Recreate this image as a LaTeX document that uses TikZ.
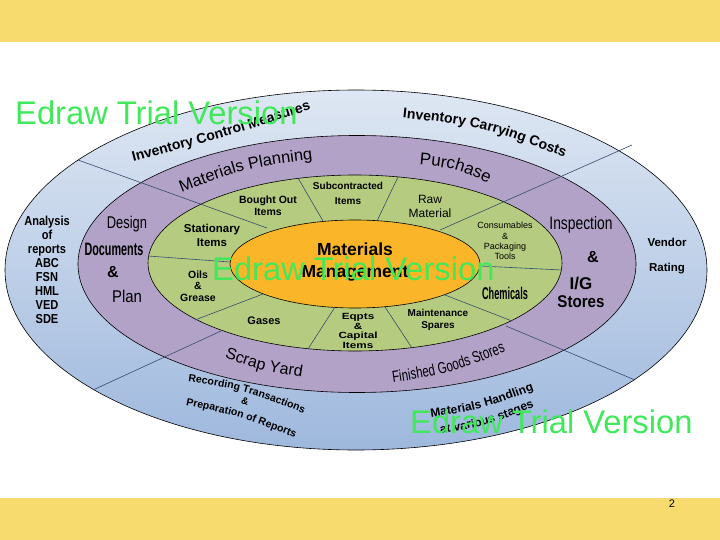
\documentclass[tikz,border=0pt]{standalone}
\usepackage{fontspec}
\setmainfont{Liberation Sans}
\newfontfamily\condfont[FakeStretch=0.72]{Liberation Sans}
\usetikzlibrary{decorations.text}
\definecolor{bandyellow}{RGB}{247,219,110}
\definecolor{blueTop}{RGB}{222,231,243}
\definecolor{blueBot}{RGB}{158,184,221}
\definecolor{purpleRing}{RGB}{178,162,199}
\definecolor{greenRing}{RGB}{181,204,128}
\definecolor{orangeCore}{RGB}{250,182,40}
\definecolor{divcol}{RGB}{55,75,110}
\definecolor{wmgreen}{RGB}{64,232,90}
\newcommand{\fs}[2]{\fontsize{#1}{#2}\selectfont}
\newcommand{\nx}[2]{\scalebox{#1}[1]{#2}}
\tikzset{
  ring/.style={draw=black, line width=0.6pt},
  divider/.style={draw=divcol, line width=0.6pt},
  lbl/.style={inner sep=0pt, align=center, text=black},
  watermark/.style={inner sep=0pt, anchor=base west, text=wmgreen, font=\fs{32.7}{36}},
  arctext/.style={decorate, decoration={text along path, text align=center, text={#1}}}
}
\begin{document}
\begin{tikzpicture}[x=1pt,y=-1pt]
\useasboundingbox (0,0) rectangle (720,540);
% bands
\fill[bandyellow] (0,0) rectangle (720,42);
\fill[bandyellow] (0,498) rectangle (720,540);
% rings
\shade[top color=blueTop, bottom color=blueBot] (356,270) ellipse [x radius=351, y radius=180];
\draw[ring] (356,270) ellipse [x radius=351, y radius=180];
\filldraw[ring, fill=purpleRing] (357,264) ellipse [x radius=279, y radius=128.5];
\filldraw[ring, fill=greenRing] (355,263) ellipse [x radius=207, y radius=88];
\filldraw[ring, fill=orangeCore] (355,264) ellipse [x radius=125, y radius=44];
% dividers through outer and middle rings
\draw[divider] (78,160) -- (267,228);
\draw[divider] (632,145) -- (440,230);
\draw[divider] (93,390) -- (221,331);
\draw[divider] (635,380) -- (506,326);
% dividers of the green ring
\draw[divider] (298,178) -- (323,221);
\draw[divider] (398,177) -- (377,221);
\draw[divider] (148,256) -- (230,262);
\draw[divider] (480,266) -- (562,270);
\draw[divider] (195,320) -- (263,294);
\draw[divider] (335,307) -- (308,349);
\draw[divider] (385,307) -- (412,348);
\draw[divider] (445,295) -- (512,321);
% outer ring texts
\path[arctext={|\fs{14}{17}\bfseries|Inventory Control Measures}] (112,167) .. controls (222,138) .. (332,103);
\path[arctext={|\fs{14}{17}\bfseries|Inventory Carrying Costs}] (384,116) .. controls (482,126) .. (582,164);
\node[lbl, font=\fs{13}{13.9}\bfseries] (analysis) at (47,270) {\nx{0.85}{Analysis}\\\nx{0.85}{of}\\\nx{0.85}{reports}\\\nx{0.85}{ABC}\\\nx{0.85}{FSN}\\\nx{0.85}{HML}\\\nx{0.85}{VED}\\\nx{0.85}{SDE}};
\node[lbl, font=\fs{11.5}{13}\bfseries] (vendor) at (667,242) {Vendor};
\node[lbl, font=\fs{11.5}{13}\bfseries] (rating) at (667,269) {Rating};
\path[arctext={|\fs{10.5}{12}\bfseries|Recording Transactions}] (176,380) .. controls (245,390) .. (315,418);
\node[lbl, font=\fs{10}{12}\bfseries, rotate=-17] (recamp) at (245,401) {\&};
\path[arctext={|\fs{10.5}{12}\bfseries|Preparation of Reports}] (174,403) .. controls (240,416) .. (306,442);
\path[arctext={|\fs{12}{14}\bfseries|Materials Handling}] (414,420) .. controls (480,410) .. (550,384);
\path[arctext={|\fs{12}{14}\bfseries|at various stages}] (426,436) .. controls (488,426) .. (548,401);
% middle ring texts
\path[arctext={|\fs{16.5}{19}|Materials Planning}] (170,197) .. controls (245,168) .. (325,158);
\path[arctext={|\fs{17}{20}|Purchase}] (410,164) .. controls (455,168) .. (497,187);
\path[arctext={|\fs{16}{19}|Scrap Yard}] (214,354) .. controls (262,371) .. (313,379);
\path[arctext={|\fs{16}{19}\condfont|Finished Goods Stores}] (383,384) .. controls (450,374) .. (515,348);
\node[lbl, font=\fs{17}{20}] (design) at (127,224) {\nx{0.76}{Design}};
\node[lbl, font=\fs{18}{20}\bfseries] (documents) at (114,249) {\nx{0.6}{Documents}};
\node[lbl, font=\fs{16}{20}\bfseries] (lamp) at (113,272) {\&};
\node[lbl, font=\fs{17}{20}] (plan) at (127,296) {\nx{0.88}{Plan}};
\node[lbl, font=\fs{18}{20}] (inspection) at (581,225) {\nx{0.77}{Inspection}};
\node[lbl, font=\fs{16}{20}\bfseries] (ramp) at (593,257) {\&};
\node[lbl, font=\fs{17}{20}\bfseries] (ig) at (581,284) {I/G};
\node[lbl, font=\fs{17}{20}\bfseries] (stores) at (581,302) {\nx{0.89}{Stores}};
% inner ring texts
\node[lbl, font=\fs{10.5}{12}\bfseries] (bought) at (268,206) {Bought Out\\Items};
\node[lbl, font=\fs{10}{15}\bfseries] (subc) at (348,193) {Subcontracted\\Items};
\node[lbl, font=\fs{12}{14}] (raw) at (430,206) {Raw\\Material};
\node[lbl, font=\fs{9}{10.3}] (consum) at (505,241) {Consumables\\\&\\Packaging\\Tools};
\node[lbl, font=\fs{11.5}{14}\bfseries] (station) at (212,235) {Stationary\\Items};
\node[lbl, font=\fs{10.5}{11.5}\bfseries] (oils) at (198,286) {Oils\\\&\\Grease};
\node[lbl, font=\fs{11}{13}\bfseries] (gases) at (264,321) {Gases};
\node[lbl, font=\fs{9}{9.4}\bfseries] (eqpts) at (358,331) {\nx{1.3}{Eqpts}\\\nx{1.3}{\&}\\\nx{1.3}{Capital}\\\nx{1.3}{Items}};
\node[lbl, font=\fs{10}{12}\bfseries] (maint) at (438,320) {Maintenance\\Spares};
\node[lbl, font=\fs{17}{20}\bfseries] (chem) at (505,293) {\nx{0.54}{Chemicals}};
% core
\node[lbl, font=\fs{17.5}{22}\bfseries] (core) at (355,262) {Materials\\Management};
% page number
\node[lbl, font=\fs{11}{13}] (page) at (672,504) {2};
% watermarks
\node[watermark] (wm1) at (15,125) {Edraw Trial Version};
\node[watermark] (wm2) at (212,280) {Edraw Trial Version};
\node[watermark] (wm3) at (410,433) {Edraw Trial Version};
\end{tikzpicture}
\end{document}
